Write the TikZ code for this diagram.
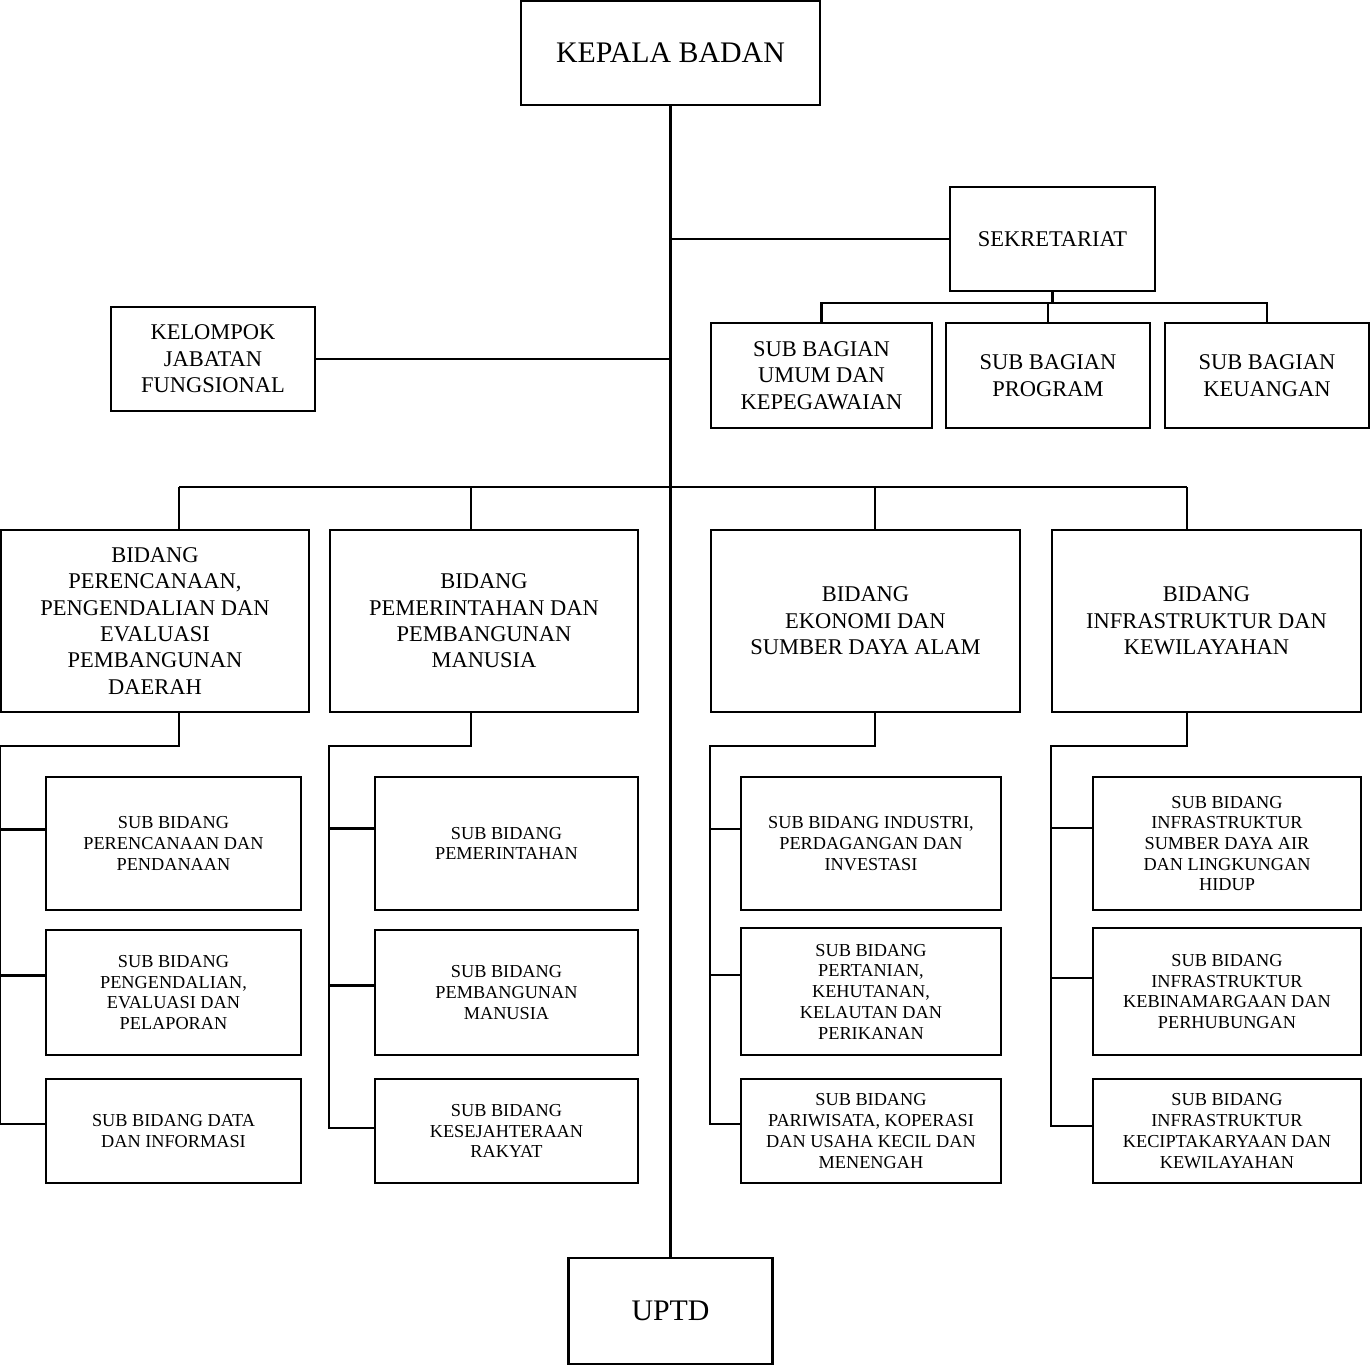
\documentclass[tikz,border=0pt]{standalone}
\usepackage{fontspec}
\setmainfont{Liberation Serif}
\begin{document}
\begin{tikzpicture}[x=0.02cm,y=-0.02cm,
    unit/.style 2 args={draw,line width=1.2pt,minimum width=#1*0.02cm,minimum height=#2*0.02cm,align=center,inner sep=0pt},
    bigtext/.style={font=\fontsize{17}{20}\selectfont},
    midtext/.style={font=\fontsize{12.8}{15}\selectfont},
    smalltext/.style={font=\fontsize{10.4}{11.8}\selectfont}]
            \useasboundingbox (0,0) rectangle (1370,1366);
            \node[unit={299}{104},bigtext] (kepala) at (670.5,53) {KEPALA BADAN};
            \node[unit={204}{106},bigtext] (uptd) at (670.5,1311) {UPTD};
            \begin{scope}[every node/.style={midtext}]
                \node[unit={205}{104}] (sekr) at (1052.5,239) {SEKRETARIAT};
                \node[unit={204}{104}] (kjf) at (213,359) {KELOMPOK\\JABATAN\\FUNGSIONAL};
                \node[unit={221}{105}] (sb1) at (821.5,375.5) {SUB BAGIAN\\UMUM DAN\\KEPEGAWAIAN};
                \node[unit={204}{105}] (sb2) at (1048,375.5) {SUB BAGIAN\\PROGRAM};
                \node[unit={204}{105}] (sb3) at (1267,375.5) {SUB BAGIAN\\KEUANGAN};
                \node[unit={308}{182}] (b1) at (155,621) {BIDANG\\PERENCANAAN,\\PENGENDALIAN DAN\\EVALUASI\\PEMBANGUNAN\\DAERAH};
                \node[unit={308}{182}] (b2) at (484,621) {BIDANG\\PEMERINTAHAN DAN\\PEMBANGUNAN\\MANUSIA};
                \node[unit={309}{182}] (b3) at (865.5,621) {BIDANG\\EKONOMI DAN\\SUMBER DAYA ALAM};
                \node[unit={309}{182}] (b4) at (1206.5,621) {BIDANG\\INFRASTRUKTUR DAN\\KEWILAYAHAN};
            \end{scope}
            \begin{scope}[every node/.style={smalltext}]
                \node[unit={255}{133}] (s11) at (173.5,843.5) {SUB BIDANG\\PERENCANAAN DAN\\PENDANAAN};
                \node[unit={255}{125}] (s12) at (173.5,992.5) {SUB BIDANG\\PENGENDALIAN,\\EVALUASI DAN\\PELAPORAN};
                \node[unit={255}{104}] (s13) at (173.5,1131) {SUB BIDANG DATA\\DAN INFORMASI};
                \node[unit={263}{133}] (s21) at (506.5,843.5) {SUB BIDANG\\PEMERINTAHAN};
                \node[unit={263}{125}] (s22) at (506.5,992.5) {SUB BIDANG\\PEMBANGUNAN\\MANUSIA};
                \node[unit={263}{104}] (s23) at (506.5,1131) {SUB BIDANG\\KESEJAHTERAAN\\RAKYAT};
                \node[unit={260}{133}] (s31) at (871,843.5) {SUB BIDANG INDUSTRI,\\PERDAGANGAN DAN\\INVESTASI};
                \node[unit={260}{127}] (s32) at (871,991.5) {SUB BIDANG\\PERTANIAN,\\KEHUTANAN,\\KELAUTAN DAN\\PERIKANAN};
                \node[unit={260}{104}] (s33) at (871,1131) {SUB BIDANG\\PARIWISATA, KOPERASI\\DAN USAHA KECIL DAN\\MENENGAH};
                \node[unit={268}{133}] (s41) at (1227,843.5) {SUB BIDANG\\INFRASTRUKTUR\\SUMBER DAYA AIR\\DAN LINGKUNGAN\\HIDUP};
                \node[unit={268}{127}] (s42) at (1227,991.5) {SUB BIDANG\\INFRASTRUKTUR\\KEBINAMARGAAN DAN\\PERHUBUNGAN};
                \node[unit={268}{104}] (s43) at (1227,1131) {SUB BIDANG\\INFRASTRUKTUR\\KECIPTAKARYAAN DAN\\KEWILAYAHAN};
            \end{scope}
            \coordinate (sbus) at (1052.5,303);
            \coordinate (d1) at (179,487);
            \coordinate (d2) at (471,487);
            \coordinate (d3) at (875,487);
            \coordinate (d4) at (1187,487);
            \coordinate (t1) at (179,746);
            \coordinate (t2) at (471,746);
            \coordinate (t3) at (875,746);
            \coordinate (t4) at (1187,746);
            % titik cabang sub bidang
            \path ([yshift=0.28cm]s11.west) coordinate (r11) ([yshift=0.34cm]s12.west) coordinate (r12) ([yshift=0.14cm]s13.west) coordinate (r13);
            \path ([yshift=0.30cm]s21.west) coordinate (r21) ([yshift=0.14cm]s22.west) coordinate (r22) ([yshift=0.06cm]s23.west) coordinate (r23);
            \path ([yshift=0.29cm]s31.west) coordinate (r31) ([yshift=0.33cm]s32.west) coordinate (r32) ([yshift=0.14cm]s33.west) coordinate (r33);
            \path ([yshift=0.31cm]s41.west) coordinate (r41) ([yshift=0.27cm]s42.west) coordinate (r42) ([yshift=0.10cm]s43.west) coordinate (r43);
            \begin{scope}[line width=1.2pt]
                \draw (kepala.south) -- (uptd.north);
                \draw (sekr.west) -- (sekr.west -| kepala.south);
                \draw (kjf.east) -- (kjf.east -| kepala.south);
                \draw (sekr.south) -- (sbus);
                \draw (sb1.north) |- (sbus) -| (sb3.north);
                \draw (sb2.north) -- (sb2.north |- sbus);
                \draw (d1) -- (d4);
                \draw (d1) -- (d1 |- b1.north);
                \draw (d2) -- (d2 |- b2.north);
                \draw (d3) -- (d3 |- b3.north);
                \draw (d4) -- (d4 |- b4.north);
                % bidang ke sub bidang
                \draw (t1 |- b1.south) -- (t1) -- (t1 -| b1.west) -- (r13 -| b1.west) -- (r13);
                \draw (r11 -| b1.west) -- (r11);
                \draw (r12 -| b1.west) -- (r12);
                \draw (t2 |- b2.south) -- (t2) -- (t2 -| b2.west) -- (r23 -| b2.west) -- (r23);
                \draw (r21 -| b2.west) -- (r21);
                \draw (r22 -| b2.west) -- (r22);
                \draw (t3 |- b3.south) -- (t3) -- (t3 -| b3.west) -- (r33 -| b3.west) -- (r33);
                \draw (r31 -| b3.west) -- (r31);
                \draw (r32 -| b3.west) -- (r32);
                \draw (t4 |- b4.south) -- (t4) -- (t4 -| b4.west) -- (r43 -| b4.west) -- (r43);
                \draw (r41 -| b4.west) -- (r41);
                \draw (r42 -| b4.west) -- (r42);
            \end{scope}
        \end{tikzpicture}
\end{document}
